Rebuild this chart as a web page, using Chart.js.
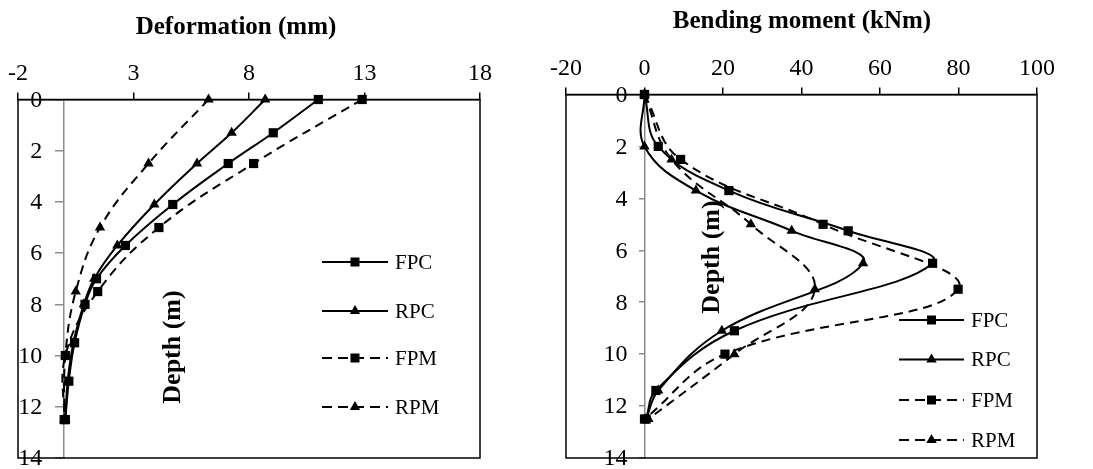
<!DOCTYPE html>
<html>
<head>
<title>Deformation and bending moment</title>
<script src="https://cdn.jsdelivr.net/npm/chart.js"></script>
<style>
  body { margin: 0; background: #fff; overflow: hidden; }
  .box { position: absolute; top: 0; height: 469px; }
</style>
</head>
<body>
<div class="box" style="left:0;width:540px"><canvas id="defChart"></canvas></div>
<div class="box" style="left:540px;width:553px"><canvas id="momChart"></canvas></div>
<script>
const seriesNames = ['FPC', 'RPC', 'FPM', 'RPM'];
const depthTicks = [0, 2, 4, 6, 8, 10, 12, 14];

// deformation (mm) against depth (m)
const defDepthC = [0, 1.3, 2.5, 4.1, 5.7, 7.0, 8.0, 9.5, 11.0, 12.5];
const defFPC = [11.0, 9.05, 7.1, 4.7, 2.65, 1.4, 0.9, 0.45, 0.2, 0.05];
const defRPC = [8.7, 7.25, 5.75, 3.9, 2.3, 1.3, 0.85, 0.4, 0.15, 0.05];
const defDepthM = [0, 2.5, 5.0, 7.5, 10.0, 12.5];
const defFPM = [12.9, 8.2, 4.1, 1.45, 0.05, 0.0];
const defRPM = [6.25, 3.65, 1.55, 0.5, 0.05, 0.0];
const defTicks = [-2, 3, 8, 13, 18];

// bending moment (kNm) against depth (m)
const momDepthC = [0, 2.0, 3.7, 5.25, 6.5, 9.1, 11.4, 12.5];
const momFPC = [0, 3.5, 21.5, 51.9, 73.4, 22.9, 2.9, 0.4];
const momRPC = [0, 0, 13.1, 37.5, 55.7, 19.7, 3.5, 0.4];
const momDepthM = [0, 2.5, 5.0, 7.5, 10.0, 12.5];
const momFPM = [0, 9.2, 45.5, 79.9, 20.5, 0];
const momRPM = [0, 6.9, 27.1, 43.4, 22.9, 1.0];
const momTicks = [-20, 0, 20, 40, 60, 80, 100];

const serif = 'Liberation Serif';
const styles = [
  { pointStyle: 'rect', dash: [] },
  { pointStyle: 'triangle', dash: [] },
  { pointStyle: 'rect', dash: [9, 6] },
  { pointStyle: 'triangle', dash: [9, 6] }
];

function pairs(xs, ys) {
  return xs.map((v, i) => ({ x: v, y: ys[i] }));
}

function makeSets(list) {
  return list.map((pts, i) => ({
    label: seriesNames[i],
    data: pts,
    showLine: true,
    borderColor: '#000',
    backgroundColor: '#000',
    borderWidth: 2,
    borderDash: styles[i].dash,
    pointStyle: styles[i].pointStyle,
    pointRadius: styles[i].pointStyle === 'rect' ? 6.5 : 6,
    pointBorderWidth: 0,
    tension: 0.4,
    clip: false
  }));
}

function drawMarker(ctx, style, x, y) {
  ctx.beginPath();
  if (style === 'rect') {
    ctx.rect(x - 4.5, y - 4.5, 9, 9);
  } else {
    ctx.moveTo(x, y - 6);
    ctx.lineTo(x + 5.2, y + 3);
    ctx.lineTo(x - 5.2, y + 3);
    ctx.closePath();
  }
  ctx.fill();
}

// depth labels, frame, axis captions and the key
const decor = {
  id: 'decor',
  afterDraw(chart, args, o) {
    const { ctx, chartArea: a } = chart;
    const xs = chart.scales.x, ys = chart.scales.y;
    ctx.save();
    ctx.fillStyle = '#000';

    // depth tick labels left of the zero line
    ctx.font = '24px "' + serif + '"';
    ctx.textAlign = 'right';
    ctx.textBaseline = 'middle';
    const zx = xs.getPixelForValue(0);
    depthTicks.forEach(v => ctx.fillText(String(v), zx - o.labelGap, ys.getPixelForValue(v) + 1));

    ctx.strokeStyle = '#000';
    ctx.lineWidth = 1.5;
    ctx.strokeRect(a.left, a.top, a.right - a.left, a.bottom - a.top);

    ctx.textAlign = 'center';
    ctx.font = 'bold 25px "' + serif + '"';
    ctx.fillText(o.title, o.titleX, o.titleY);
    ctx.font = 'bold 26px "' + serif + '"';
    ctx.save();
    ctx.translate(o.depthX, o.depthY);
    ctx.rotate(-Math.PI / 2);
    ctx.fillText('Depth (m)', 0, 0);
    ctx.restore();

    ctx.font = '21px "' + serif + '"';
    ctx.textAlign = 'left';
    chart.data.datasets.forEach((ds, i) => {
      const y = o.keyY[i];
      ctx.lineWidth = 2;
      ctx.setLineDash(styles[i].dash.length ? [10, 6] : []);
      ctx.beginPath();
      ctx.moveTo(o.keyX, y);
      ctx.lineTo(o.keyX + o.keyLen, y);
      ctx.stroke();
      ctx.setLineDash([]);
      drawMarker(ctx, styles[i].pointStyle, o.keyX + o.keyLen / 2, y);
      ctx.fillText(ds.label, o.keyX + o.keyLen + 7, y + 1);
    });
    ctx.restore();
  }
};

function makeChart(id, sets, xMin, xMax, xTicks, topH, pad, yTick, decorOpts) {
  return new Chart(document.getElementById(id), {
    type: 'scatter',
    data: { datasets: sets },
    plugins: [decor],
    options: {
      responsive: true,
      maintainAspectRatio: false,
      animation: false,
      layout: { padding: pad, autoPadding: false },
      plugins: { legend: { display: false }, tooltip: { enabled: false }, decor: decorOpts },
      scales: {
        x: {
          type: 'linear', position: 'top', min: xMin, max: xMax,
          afterBuildTicks: s => { s.ticks = xTicks.map(v => ({ value: v })); },
          afterFit: s => { s.height = topH; },
          grid: { drawOnChartArea: false, tickLength: 7, color: '#000', lineWidth: 1.5 },
          border: { color: '#000', width: 1.5 },
          ticks: { color: '#000', font: { family: serif, size: 24 }, padding: 4, maxRotation: 0, autoSkip: false }
        },
        y: {
          type: 'linear', position: { x: 0 }, reverse: true, min: 0, max: 14,
          afterBuildTicks: s => { s.ticks = depthTicks.map(v => ({ value: v })); },
          grid: { drawOnChartArea: false, tickLength: yTick, color: '#8c8c8c', lineWidth: 1.5 },
          border: { color: '#8c8c8c', width: 1.5 },
          ticks: { display: false }
        }
      }
    }
  });
}

makeChart('defChart',
  makeSets([pairs(defFPC, defDepthC), pairs(defRPC, defDepthC), pairs(defFPM, defDepthM), pairs(defRPM, defDepthM)]),
  -2, 18, defTicks, 99.5, { left: 18, right: 60, top: 0, bottom: 11 }, 8,
  { title: 'Deformation (mm)', titleX: 236, titleY: 28, depthX: 173, depthY: 347,
    labelGap: 22, keyX: 322, keyLen: 66, keyY: [262, 311, 358, 407] });

makeChart('momChart',
  makeSets([pairs(momFPC, momDepthC), pairs(momRPC, momDepthC), pairs(momFPM, momDepthM), pairs(momRPM, momDepthM)]),
  -20, 100, momTicks, 94.5, { left: 26, right: 56, top: 0, bottom: 11 }, 5,
  { title: 'Bending moment (kNm)', titleX: 262, titleY: 22, depthX: 172, depthY: 257,
    labelGap: 17, keyX: 359, keyLen: 65, keyY: [320, 359.5, 400, 440] });
</script>
</body>
</html>
